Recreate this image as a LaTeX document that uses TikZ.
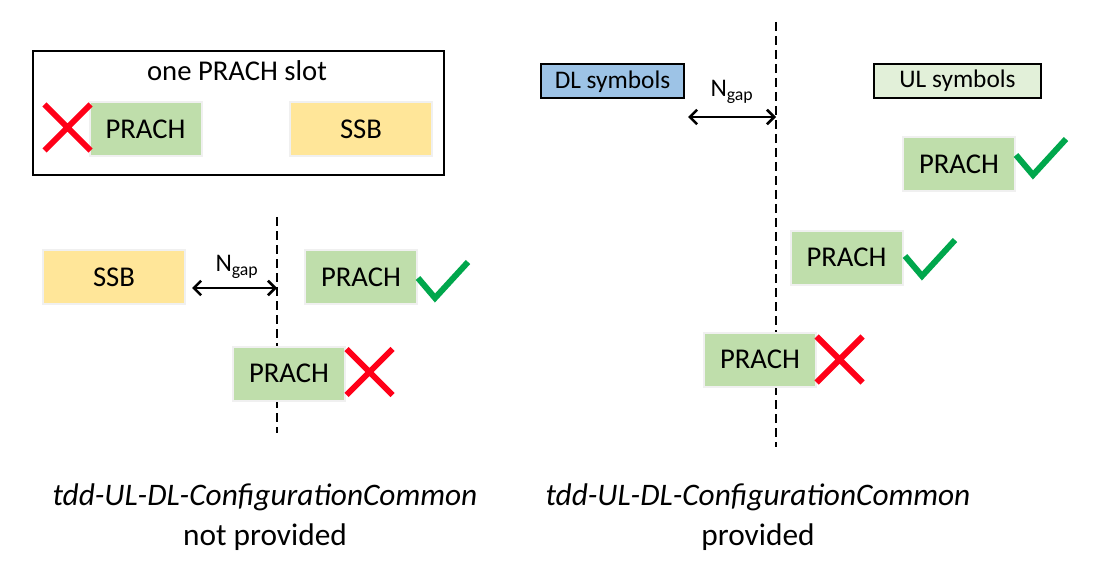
\documentclass[tikz,border=0pt]{standalone}
\usepackage{fontspec}
\setmainfont{Carlito}
\usepackage{tikz}
\usetikzlibrary{positioning,calc,arrows.meta}

\definecolor{prachgreen}{HTML}{BFDEAB}
\definecolor{ssbyellow}{HTML}{FFE699}
\definecolor{dlblue}{HTML}{9DC3E6}
\definecolor{ulgreen}{HTML}{E2F0D9}
\definecolor{okgreen}{HTML}{00A74C}
\definecolor{badred}{HTML}{FF0018}

\tikzset{
  prach/.style={fill=prachgreen, draw=black!6, line width=1.5pt, minimum width=84pt, minimum height=40.5pt, font=\fontsize{21.5}{26}\selectfont},
  ssb/.style={prach, fill=ssbyellow, minimum width=106.5pt},
  symbox/.style={draw, line width=1.5pt, minimum height=25.5pt, font=\fontsize{19}{23}\selectfont},
  gaplabel/.style={font=\fontsize{19}{23}\selectfont},
  cutline/.style={line width=2.2pt, dash pattern=on 6.5pt off 4pt},
  gaparrow/.style={{Straight Barb[length=5.5pt,width=11pt]}-{Straight Barb[length=5.5pt,width=11pt]}, line width=1.9pt},
  caption/.style={align=center, font=\fontsize{23.5}{30}\selectfont},
  cross/.pic={\draw[badred, line width=4.5pt] (-23,-23) -- (23,23) (-23,23) -- (23,-23);},
  tick/.pic={\draw[okgreen, line width=4.5pt, line join=miter] (0,0) -- (17,20) -- (50,-16);}
}

\begin{document}
\begin{tikzpicture}[x=0.75pt, y=-0.75pt]
  \useasboundingbox (0,0) rectangle (1096,581);

  % one PRACH slot
  \node[draw, line width=1.5pt, minimum width=308pt, minimum height=93pt] (slot) at (238.5,113) {};
  \node[font=\fontsize{21.5}{26}\selectfont] (slottitle) at (237,71) {one PRACH slot};
  \node[prach] (slotprach) at (145.5,129) {PRACH};
  \node[ssb] (slotssb) at (361,129) {SSB};
  \pic at (67.5,127.5) {cross};

  % not provided
  \coordinate (cutAtop) at (277,217);
  \coordinate (cutAbot) at (277,433);
  \draw[cutline] (cutAtop) -- (cutAbot);
  \node[ssb] (ssbA) at (114,277) {SSB};
  \node[prach] (prachA) at (361,277) {PRACH};
  \node[prach] (prachB) at (289,373.5) {PRACH};
  \coordinate (gapAl) at (192,288);
  \coordinate (gapAr) at (277,288);
  \draw[gaparrow] (gapAl) -- (gapAr);
  \node[gaplabel] (ngapA) at (237,267) {N\textsubscript{gap}};
  \pic at (418,278) {tick};
  \pic at (369.5,372) {cross};

  % provided
  \coordinate (cutBtop) at (776,22);
  \coordinate (cutBbot) at (776,447);
  \draw[cutline] (cutBtop) -- (cutBbot);
  \node[symbox, fill=dlblue, minimum width=107pt] (dl) at (612.5,81.5) {DL symbols};
  \node[symbox, fill=ulgreen, minimum width=125pt] (ul) at (957.5,81) {UL symbols};
  \coordinate (gapBl) at (688,117);
  \coordinate (gapBr) at (776,117);
  \draw[gaparrow] (gapBl) -- (gapBr);
  \node[gaplabel] (ngapB) at (732,92) {N\textsubscript{gap}};
  \node[prach] (prachC) at (959,164) {PRACH};
  \node[prach] (prachD) at (846.5,257.5) {PRACH};
  \node[prach] (prachE) at (760,359.5) {PRACH};
  \pic at (1016,155) {tick};
  \pic at (905,256) {tick};
  \pic at (839.5,359.5) {cross};

  % captions
  \node[caption] (capA) at (265,517) {\textit{tdd-UL-DL-ConfigurationCommon}\\not provided};
  \node[caption] (capB) at (758,517) {\textit{tdd-UL-DL-ConfigurationCommon}\\provided};
\end{tikzpicture}
\end{document}
